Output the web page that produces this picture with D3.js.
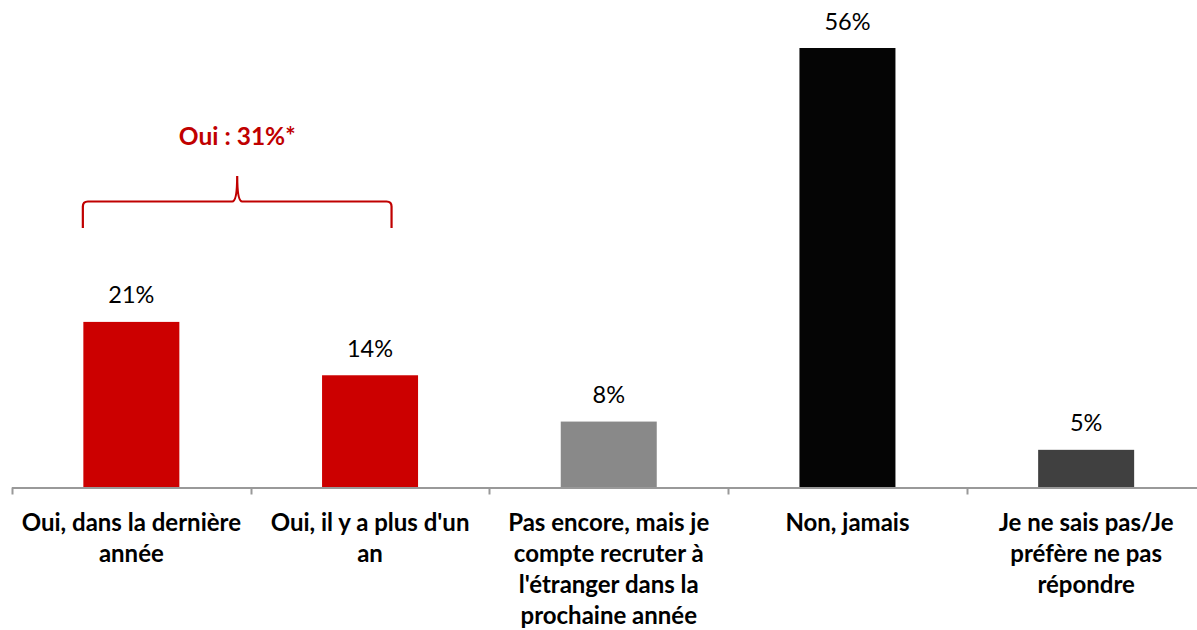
<!DOCTYPE html>
<html>
<head>
<meta charset="utf-8">
<script src="https://cdn.jsdelivr.net/npm/d3@7"></script>
<style>
  body { margin: 0; background: #fff; }
  svg { display: block; font-family: Lato, "Open Sans", sans-serif; }
</style>
</head>
<body>
<div id="chart"></div>
<script>
// data (bar heights estimated, labels shown rounded)
const categories = [
    "Oui, dans la dernière année",
    "Oui, il y a plus d'un an",
    "Pas encore, mais je compte recruter à l'étranger dans la prochaine année",
    "Non, jamais",
    "Je ne sais pas/Je préfère ne pas répondre"
];
const labelLines = [
    ["Oui, dans la dernière", "année"],
    ["Oui, il y a plus d'un", "an"],
    ["Pas encore, mais je", "compte recruter à", "l'étranger dans la", "prochaine année"],
    ["Non, jamais"],
    ["Je ne sais pas/Je", "préfère ne pas", "répondre"]
];
const values = [21.1, 14.3, 8.4, 56, 4.8];
const barColors = ["#CC0000", "#CC0000", "#898989", "#050505", "#404040"];
const groupLabel = "Oui : 31%*";

const width = 1197, height = 630;
const margin = {top: 48, left: 12, bottom: 142.5};
const baseY = height - margin.bottom;
const bandW = 238.7;
const barW = 96;

const svg = d3.select("#chart").append("svg")
    .attr("width", width)
    .attr("height", height);

const x = d3.scaleBand()
    .domain(categories)
    .range([margin.left, margin.left + bandW * categories.length])
    .paddingInner(0)
    .paddingOuter(0);

const y = d3.scaleLinear()
    .domain([0, 56])
    .range([baseY, margin.top]);

// bars
svg.selectAll(".bar")
    .data(values)
    .join("rect")
    .attr("class", "bar")
    .attr("x", (d, i) => x(categories[i]) + (x.bandwidth() - barW) / 2)
    .attr("y", d => y(d))
    .attr("width", barW)
    .attr("height", d => baseY - y(d))
    .attr("fill", (d, i) => barColors[i]);

// axis line + ticks
const axisColor = "#999";
svg.append("line")
    .attr("x1", margin.left).attr("x2", width)
    .attr("y1", baseY + 0.5).attr("y2", baseY + 0.5)
    .attr("stroke", axisColor).attr("stroke-width", 2);

svg.selectAll(".tick")
    .data(categories)
    .join("line")
    .attr("class", "tick")
    .attr("x1", d => Math.round(x(d)) + 0.5)
    .attr("x2", d => Math.round(x(d)) + 0.5)
    .attr("y1", baseY)
    .attr("y2", baseY + 7)
    .attr("stroke", axisColor).attr("stroke-width", 2);

// value labels
svg.selectAll(".val")
    .data(values)
    .join("text")
    .attr("class", "val")
    .attr("x", (d, i) => x(categories[i]) + x.bandwidth() / 2)
    .attr("y", d => y(d) - 18.5)
    .attr("text-anchor", "middle")
    .attr("font-size", 23.5)
    .attr("fill", "#000")
    .text(d => Math.round(d) + "%");

// category labels
const lab = svg.selectAll(".cat")
    .data(labelLines)
    .join("text")
    .attr("class", "cat")
    .attr("text-anchor", "middle")
    .attr("font-size", 24)
    .attr("font-weight", "bold")
    .attr("fill", "#000");

lab.selectAll("tspan")
    .data((d, i) => d.map(t => ({t, i})))
    .join("tspan")
    .attr("x", d => x(categories[d.i]) + x.bandwidth() / 2)
    .attr("y", (d, j) => baseY + 43.5 + j * 31)
    .text(d => d.t);

// brace over the two "Oui" bars
const red = "#C00000";
const bx0 = x(categories[0]) + (x.bandwidth() - barW) / 2 - 0.5;
const bx1 = x(categories[1]) + x.bandwidth() / 2 + 21.5;
const bmid = (bx0 + bx1) / 2;
const by = 201.5, bTop = 176, bBot = 228, r = 5;

const brace = d3.path();
brace.moveTo(bx0, bBot);
brace.lineTo(bx0, by + r);
brace.quadraticCurveTo(bx0, by, bx0 + r, by);
brace.lineTo(bmid - 5, by);
brace.quadraticCurveTo(bmid, by, bmid, bTop);
brace.quadraticCurveTo(bmid, by, bmid + 5, by);
brace.lineTo(bx1 - r, by);
brace.quadraticCurveTo(bx1, by, bx1, by + r);
brace.lineTo(bx1, bBot);

svg.append("path")
    .attr("d", brace.toString())
    .attr("fill", "none")
    .attr("stroke", red)
    .attr("stroke-width", 2.2);

svg.append("text")
    .attr("x", bmid)
    .attr("y", 145)
    .attr("text-anchor", "middle")
    .attr("font-size", 24.5)
    .attr("font-weight", "bold")
    .attr("fill", red)
    .text(groupLabel);
</script>
</body>
</html>
